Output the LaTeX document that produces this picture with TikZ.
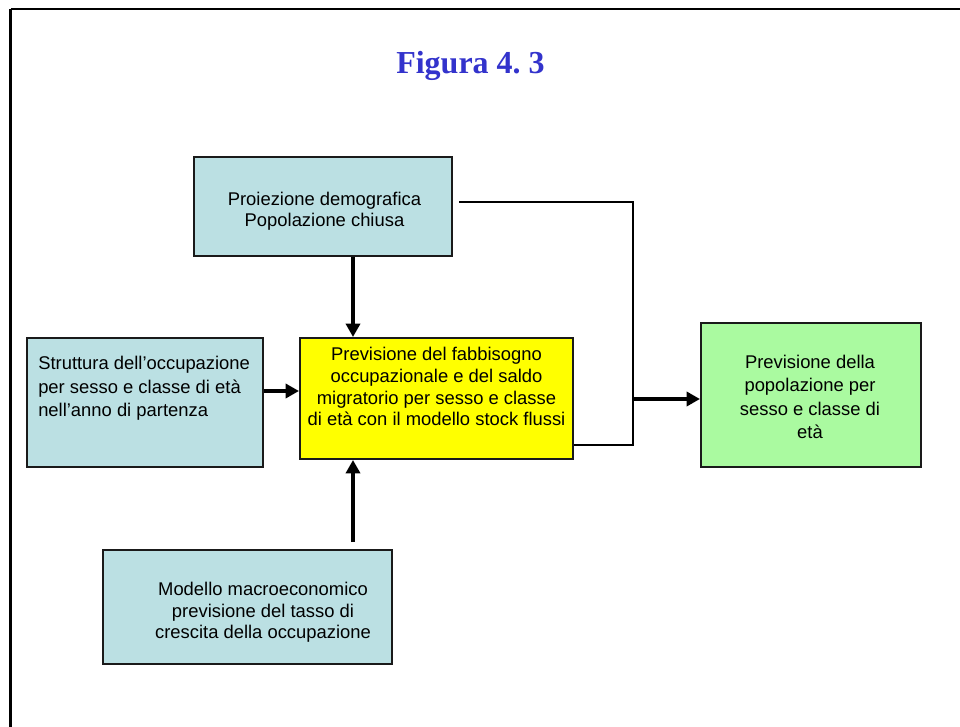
\documentclass[tikz,border=0pt]{standalone}
\usepackage{fontspec}
\setmainfont{Liberation Sans}
\newfontfamily\titlefont{Liberation Serif}
\usetikzlibrary{arrows.meta}
\definecolor{boxblue}{HTML}{BBE0E3}
\definecolor{boxyellow}{HTML}{FFFF00}
\definecolor{boxgreen}{HTML}{AAFAA0}
\definecolor{titleblue}{HTML}{3333CC}
\definecolor{edge}{HTML}{1A1A1A}
\tikzset{
  box/.style={draw=edge, line width=1.5pt, inner sep=0pt, rectangle},
  txt/.style={inner sep=0pt, anchor=north, align=center},
  arr/.style={line width=3pt, -{Triangle[length=10pt,width=10.5pt]}},
  thinline/.style={line width=1.3pt},
  frame/.style={line width=1.8pt},
}
\begin{document}
\begin{tikzpicture}[x=0.75pt,y=-0.75pt]
\useasboundingbox (0,0) rectangle (960,727);
% frame
\draw[frame] (10.5,9) -- (965,9);
\draw[frame] (10.5,9) -- (10.5,735);
% title
\node[anchor=base, inner sep=0pt, text=titleblue, font=\titlefont\bfseries\fontsize{24}{28}\selectfont] (title) at (470.5,74) {Figura 4.\ 3};
% boxes
\node[box, fill=boxblue, minimum width=258*0.75pt, minimum height=99*0.75pt] (proj) at (323,206.5) {};
\node[box, fill=boxyellow, minimum width=273*0.75pt, minimum height=121*0.75pt] (cent) at (436.5,398.5) {};
\node[box, fill=boxblue, minimum width=236*0.75pt, minimum height=129*0.75pt] (strut) at (145,402.5) {};
\node[box, fill=boxgreen, minimum width=220*0.75pt, minimum height=144*0.75pt] (green) at (811,395) {};
\node[box, fill=boxblue, minimum width=289*0.75pt, minimum height=114*0.75pt] (mod) at (247.5,607) {};
% texts
\node[txt, font=\fontsize{13.8}{15.75}\selectfont] (projt) at (324.5,192) {Proiezione demografica\\Popolazione chiusa};
\node[txt, font=\fontsize{13.8}{16.3}\selectfont] (centt) at (436.5,347) {Previsione del fabbisogno\\occupazionale e del saldo\\migratorio per sesso e classe\\di età con il modello stock flussi};
\node[txt, anchor=north west, align=left, font=\fontsize{13.8}{17.6}\selectfont] (strutt) at (38,356) {Struttura dell’occupazione\\per sesso e classe di età\\nell’anno di partenza};
\node[txt, font=\fontsize{13.8}{17.5}\selectfont] (greent) at (810,355) {Previsione della\\popolazione per\\sesso e classe di\\età};
\node[txt, font=\fontsize{13.8}{16.1}\selectfont] (modt) at (263,582) {Modello macroeconomico\\previsione del tasso di\\crescita della occupazione};
% connectors
\coordinate (ax) at (353,0);
\coordinate (ay) at (0,391);
\coordinate (j1) at (633,202);
\coordinate (j2) at (633,445);
\coordinate (j3) at (633,399);
\draw[arr] (proj.south -| ax) -- (cent.north -| ax);
\draw[arr] (strut.east |- ay) -- (cent.west |- ay);
\draw[arr, shorten <=5.25pt] (mod.north -| ax) -- (cent.south -| ax);
\draw[thinline, shorten <=4.5pt] (proj.east |- j1) -- (j1) -- (j2) -- (cent.east |- j2);
\draw[arr] (j3) -- (green.west |- j3);
\end{tikzpicture}
\end{document}
